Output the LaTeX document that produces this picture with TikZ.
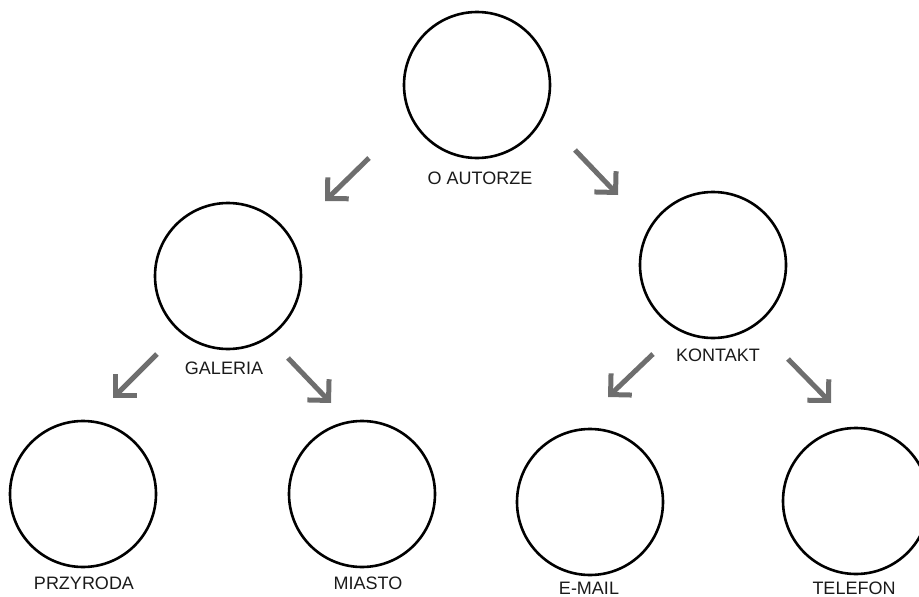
\documentclass[tikz,border=0pt]{standalone}
\usepackage{fontspec}
\setmainfont{Liberation Sans}
\usepackage{xcolor}
\usepackage{tikz}
\usetikzlibrary{positioning, arrows.meta}
\definecolor{szary}{HTML}{6E6E6E}
\definecolor{tekst}{HTML}{1A1A1A}

\begin{document}
\begin{tikzpicture}[x=1pt, y=-1pt,
		kolo/.style={draw, circle, line width=2.6pt, minimum size=146pt, inner sep=0pt},
		napis/.style={font=\fontsize{18}{20}\selectfont, text=tekst},
		strzalka/.style={draw=szary, line width=5pt, -{Straight Barb[length=15pt, width=30pt]}}]
			\useasboundingbox (0,0) rectangle (919,597);
			\clip (0,0) rectangle (919,597);
			
			% Kola
			\node[kolo] (autor) at (477,85) {};
			\node[kolo] (galeria) at (228,276) {};
			\node[kolo] (kontakt) at (713,265) {};
			\node[kolo] (przyroda) at (83,494) {};
			\node[kolo] (miasto) at (362,494) {};
			\node[kolo] (email) at (590,502) {};
			\node[kolo] (telefon) at (856,501) {};
			
			% Napisy
			\node[napis] (autorTxt) at (480,178) {O AUTORZE};
			\node[napis] (galeriaTxt) at (224,368) {GALERIA};
			\node[napis] (kontaktTxt) at (718,355) {KONTAKT};
			\node[napis] (przyrodaTxt) at (84,583) {PRZYRODA};
			\node[napis] (miastoTxt) at (368,583) {MIASTO};
			\node[napis] (emailTxt) at (589,588) {E-MAIL};
			\node[napis] (telefonTxt) at (854,588) {TELEFON};
			
			% Strzalki
			\coordinate (s1) at (369,158); \coordinate (k1) at (325,201);
			\coordinate (s2) at (575,150); \coordinate (k2) at (618,195);
			\coordinate (s3) at (157,354); \coordinate (k3) at (113,398);
			\coordinate (s4) at (288,358); \coordinate (k4) at (331,403);
			\coordinate (s5) at (653,354); \coordinate (k5) at (608,397);
			\coordinate (s6) at (788,359); \coordinate (k6) at (831,403);
			\foreach \i in {1,...,6}
				\draw[strzalka] (s\i) -- (k\i);
			\end{tikzpicture}
\end{document}
